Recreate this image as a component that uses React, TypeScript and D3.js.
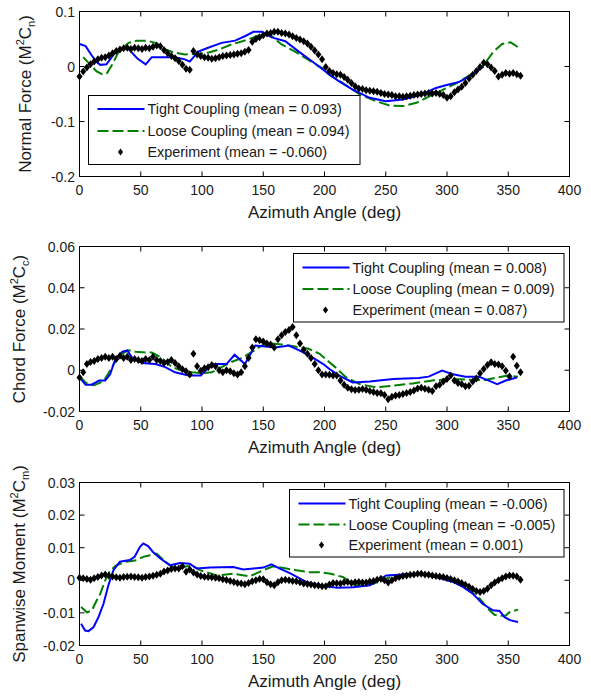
import React from 'react';
import * as d3 from 'd3';

// ---------- DATA ----------
const xTicks = [0, 50, 100, 150, 200, 250, 300, 350, 400];

const yTicksNormal = [0.1, 0, -0.1, -0.2];
const yTickLabelsNormal = ['0.1', '0', '-0.1', '-0.2'];
const yTicksChord = [0.06, 0.04, 0.02, 0, -0.02];
const yTickLabelsChord = ['0.06', '0.04', '0.02', '0', '-0.02'];
const yTicksMoment = [0.03, 0.02, 0.01, 0, -0.01, -0.02];
const yTickLabelsMoment = ['0.03', '0.02', '0.01', '0', '-0.01', '-0.02'];

const legendNormal = ['Tight Coupling (mean = 0.093)', 'Loose Coupling (mean = 0.094)', 'Experiment (mean = -0.060)'];
const legendChord = ['Tight Coupling (mean = 0.008)', 'Loose Coupling (mean = 0.009)', 'Experiment (mean = 0.087)'];
const legendMoment = ['Tight Coupling (mean = -0.006)', 'Loose Coupling (mean = -0.005)', 'Experiment (mean = 0.001)'];

// simulation lines: [azimuth deg, value]
const tightNormal: [number, number][] = [
  [0, 0.041], [5, 0.037], [10, 0.02], [14, 0.008], [17, 0.003], [22, 0.004], [28, 0.022], [33, 0.034], [40, 0.032],
  [47, 0.015], [54, 0.004], [59, 0.017], [67, 0.017], [78, 0.017], [86, 0.013], [90, 0.009], [97, 0.027], [105, 0.034],
  [116, 0.043], [127, 0.047], [135, 0.055], [142, 0.063], [149, 0.063], [157, 0.053], [168, 0.046], [179, 0.027],
  [190, 0.009], [199, -0.006], [204, -0.015], [212, -0.027], [223, -0.042], [237, -0.057], [250, -0.063], [264, -0.06],
  [278, -0.052], [291, -0.039], [299, -0.034], [310, -0.028], [321, -0.015], [326, -0.006], [330, 0.0],
];
const looseNormal: [number, number][] = [
  [3, 0.017], [9, 0.003], [14, -0.009], [18.5, -0.014], [22.5, -0.012], [26.6, 0.003], [32, 0.027], [40, 0.043],
  [47, 0.047], [55, 0.047], [62, 0.043], [70, 0.031], [78, 0.025], [86, 0.022], [94.5, 0.023], [105, 0.025], [114, 0.031],
  [124, 0.04], [133, 0.046], [141, 0.052], [149, 0.059], [157, 0.055], [165, 0.04], [176, 0.027], [187, 0.012],
  [198, -0.003], [204, -0.015], [215, -0.03], [229, -0.051], [242, -0.063], [253, -0.071], [264, -0.072], [275, -0.066],
  [286, -0.054], [297, -0.042], [308, -0.03], [319, -0.015], [330, 0.003], [338, 0.027], [345, 0.041], [352, 0.044],
  [358, 0.035],
];
const tightChord: [number, number][] = [
  [0, -0.0035], [5, -0.007], [10, -0.007], [16, -0.005], [21, -0.005], [25, -0.002], [29, 0.005], [35, 0.009],
  [39, 0.0096], [43, 0.006], [51, 0.0035], [62, 0.003], [70, 0.0015], [78, -0.001], [89, -0.0025], [99, -0.0025],
  [104, 0.0005], [108, 0.003], [120, 0.003], [126.6, 0.0075], [135, 0.003], [143.5, 0.012], [160, 0.011], [171, 0.012],
  [181.5, 0.009], [192, 0.0055], [199, 0.003], [204, 0.0006], [212, -0.0026], [223, -0.0059], [237, -0.0055],
  [256, -0.0043], [277, -0.0038], [285, -0.0031], [296, -0.0002], [304, -0.0018], [315, -0.0031], [326, -0.0031],
  [334, -0.005], [341, -0.0067], [348, -0.005], [357, -0.0035],
];
const looseChord: [number, number][] = [
  [0, -0.0028], [5, -0.006], [11.7, -0.0073], [17, -0.006], [21, -0.004], [26.6, 0.0015], [32, 0.007], [40, 0.0097],
  [45.6, 0.009], [54, 0.0086], [59, 0.0086], [67, 0.006], [75.5, 0.0015], [84, -0.0002], [92, -0.001], [100, -0.0014],
  [108, -0.001], [116, 0.0015], [124, 0.004], [133, 0.006], [141, 0.009], [149, 0.012], [157, 0.013], [165, 0.0125],
  [176, 0.0115], [187, 0.0104], [196, 0.008], [204, 0.0039], [209, 0.0014], [217.5, -0.0034], [228.5, -0.0067],
  [242, -0.0083], [256, -0.0075], [272, -0.0064], [288, -0.005], [304, -0.0042], [320, -0.0047], [331, -0.0047],
  [342, -0.0034], [350, -0.0026], [358, -0.0031],
];
const tightMoment: [number, number][] = [
  [1.3, -0.0133], [4.6, -0.0154], [7.3, -0.0156], [11.4, -0.0144], [15.5, -0.0113], [19.6, -0.0072], [23.6, -0.0015],
  [27.7, 0.0031], [33, 0.0057], [41, 0.0062], [45, 0.0072], [49.4, 0.0103], [52, 0.0113], [56, 0.0105], [60, 0.0087],
  [66, 0.0067], [74, 0.0046], [82, 0.0053], [90, 0.0051], [95.6, 0.0036], [106.5, 0.0039], [125.5, 0.0041],
  [133.6, 0.0033], [150, 0.0039], [156.7, 0.0049], [163.5, 0.0036], [171.7, 0.0022], [185, -0.0005], [196, -0.0015],
  [210, -0.0023], [223.4, -0.0021], [237, -0.0015], [250.4, 0.0015], [264, 0.0018], [277.5, 0.002], [291, 0.001],
  [305, -0.0005], [313, -0.002], [321, -0.0041], [329, -0.0072], [337.5, -0.0092], [342.9, -0.0094], [347, -0.0113],
  [352, -0.0123], [358, -0.0128],
];
const looseMoment: [number, number][] = [
  [1.3, -0.0082], [6, -0.0098], [10, -0.0093], [14, -0.0062], [17, -0.0041], [21, 0.0], [25, 0.003], [30, 0.0046],
  [38, 0.0057], [46.7, 0.0062], [52, 0.0072], [57.6, 0.0077], [63, 0.0082], [70, 0.0057], [76.6, 0.0039], [85, 0.0041],
  [91.7, 0.0046], [98.4, 0.0031], [112, 0.0015], [125.5, 0.002], [139, 0.0012], [150, 0.0031], [158, 0.0043],
  [169, 0.0036], [177, 0.0031], [187, 0.0025], [196, 0.0025], [205, 0.002], [215, 0.001], [225, -0.0015],
  [235, -0.0015], [245, -0.0005], [252, 0.0008], [264, 0.0018], [277.5, 0.002], [291, 0.0012], [305, -0.0003],
  [318, -0.003], [326.6, -0.0056], [334.7, -0.0092], [338.8, -0.0106], [344, -0.0109], [348, -0.0108], [351, -0.0098],
  [358, -0.009],
];

// experiment samples
const expAngles = [
  0, 3, 6, 9, 12, 15, 18, 21, 24, 27, 30, 33, 36, 39, 42, 45, 48, 51, 54, 57, 60, 63, 66, 69, 72, 75, 78, 81, 84, 87,
  90, 93, 96, 99, 102, 105, 108, 111, 114, 117, 120, 123, 126, 129, 132, 135, 138, 141, 144, 147, 150, 153, 156, 159,
  162, 165, 168, 171, 174, 177, 180, 183, 186, 189, 192, 195, 198, 201, 204, 207, 210, 213, 216, 219, 222, 225, 228,
  231, 234, 237, 240, 243, 246, 249, 252, 255, 258, 261, 264, 267, 270, 273, 276, 279, 282, 285, 288, 291, 294, 297,
  300, 303, 306, 309, 312, 315, 318, 321, 324, 327, 330, 333, 336, 339, 342, 345, 348, 351, 354, 357, 360,
];
const expNormal = [
  -0.018, -0.009, -0.002, 0.004, 0.009, 0.013, 0.016, 0.017, 0.02, 0.024,
  0.028, 0.031, 0.033, 0.034, 0.032, 0.034, 0.033, 0.032, 0.034, 0.033,
  0.036, 0.038, 0.037, 0.03, 0.024, 0.019, 0.015, 0.01, 0.003, -0.004,
  -0.006, 0.028, 0.022, 0.019, 0.017, 0.016, 0.014, 0.015, 0.017, 0.019,
  0.02, 0.021, 0.022, 0.023, 0.024, 0.027, 0.03, 0.045, 0.05, 0.053,
  0.057, 0.06, 0.061, 0.063, 0.063, 0.061, 0.06, 0.058, 0.055, 0.052,
  0.049, 0.046, 0.042, 0.036, 0.029, 0.022, 0.013, -0.001, -0.008, -0.012,
  -0.014, -0.015, -0.019, -0.024, -0.03, -0.036, -0.04, -0.041, -0.043, -0.044,
  -0.045, -0.046, -0.048, -0.05, -0.051, -0.052, -0.054, -0.054, -0.055, -0.054,
  -0.053, -0.052, -0.051, -0.05, -0.049, -0.048, -0.049, -0.048, -0.05, -0.052,
  -0.057, -0.054, -0.047, -0.042, -0.037, -0.03, -0.022, -0.015, -0.008, -0.001,
  0.007, 0.004, -0.002, -0.008, -0.018, -0.015, -0.012, -0.013, -0.012, -0.014,
  -0.017,
];
const expChord = [
  -0.0035, -0.001, 0.003, 0.004, 0.0045, 0.0055, 0.006, 0.0065, 0.006, 0.0065,
  0.0055, 0.007, 0.006, 0.0065, 0.005, 0.0055, 0.005, 0.0045, 0.0055, 0.005,
  0.0065, 0.005, 0.0045, 0.0035, 0.004, 0.005, 0.0035, 0.002, 0.0005, -0.0005,
  -0.002, 0.008, 0.002, -0.0002, 0.001, 0.0015, 0.0025, 0.002, 0.0, -0.001,
  0.0, -0.0005, -0.0015, -0.002, -0.001, 0.002, 0.006, 0.011, 0.015, 0.0145,
  0.014, 0.013, 0.0125, 0.011, 0.015, 0.017, 0.0185, 0.0195, 0.021, 0.017,
  0.013, 0.01, 0.008, 0.006, 0.003, 0.0, -0.002, -0.002, -0.0022, -0.0026,
  -0.0026, -0.005, -0.007, -0.0085, -0.0092, -0.0096, -0.0094, -0.0091, -0.0095, -0.01,
  -0.0105, -0.011, -0.0112, -0.012, -0.014, -0.0128, -0.0122, -0.012, -0.0115, -0.011,
  -0.0105, -0.0098, -0.0088, -0.0085, -0.009, -0.0095, -0.01, -0.0078, -0.007, -0.0055,
  -0.0042, -0.0026, -0.005, -0.0062, -0.0067, -0.0078, -0.0075, -0.0054, -0.004, -0.0015,
  0.0006, 0.0025, 0.0039, 0.003, 0.0028, 0.002, -0.0002, -0.003, 0.0065, 0.0022,
  -0.001,
];
const expMoment = [
  0.0008, 0.0006, 0.0004, 0.0002, 0.0006, 0.001, 0.0015, 0.0018, 0.0014, 0.0012,
  0.0009, 0.0008, 0.001, 0.0011, 0.0012, 0.001, 0.0009, 0.0008, 0.001, 0.0012,
  0.0014, 0.0017, 0.002, 0.0027, 0.003, 0.0035, 0.0036, 0.0036, 0.0043, 0.0026,
  0.0033, 0.0024, 0.0018, 0.0013, 0.0011, 0.001, 0.0009, 0.0008, 0.0006, 0.0003,
  0.0001, -0.0002, -0.0005, -0.0008, -0.001, -0.0012, -0.0008, -0.0003, 0.0, 0.0004,
  0.0003, -0.0006, -0.0012, -0.0015, -0.0006, 0.0, 0.0002, 0.0, -0.0002, -0.0003,
  -0.0006, -0.001, -0.0011, -0.0013, -0.0015, -0.0016, -0.0018, -0.0018, -0.0013, -0.0008,
  -0.0009, -0.001, -0.0006, -0.0005, -0.0008, -0.0006, -0.0005, -0.0007, -0.0007, -0.0004,
  -0.0002, 0.0002, 0.0005, 0.0, -0.0007, 0.0, 0.0006, 0.001, 0.0013, 0.0015,
  0.0017, 0.0018, 0.002, 0.002, 0.0018, 0.0017, 0.0015, 0.0013, 0.0012, 0.001,
  0.0007, 0.0004, 0.0, -0.0004, -0.0008, -0.0014, -0.002, -0.0027, -0.0033, -0.0036,
  -0.0033, -0.0026, -0.0015, -0.0007, 0.0, 0.0006, 0.0012, 0.0015, 0.0014, 0.0012,
  0.0002,
];

// ---------- LAYOUT ----------
const W = 591;
const H = 696;
const X0 = 79.5;
const X1 = 569.5;
const FONT = '"Liberation Sans", Arial, Helvetica, sans-serif';
const BLUE = '#0000ff';
const GREEN = '#008000';
const TEXT = '#1a1a1a';

type PanelProps = {
  top: number;
  bottom: number;
  yDomain: [number, number];
  yTicks: number[];
  yTickLabels: string[];
  tight: [number, number][];
  loose: [number, number][];
  exp: number[];
  legend: string[];
  legendBox: { x: number; y: number; w: number; h: number; rows: number[] };
  labelMain: string;
  labelSub: string;
  labelX: number;
};

const diamond = 'M0,-4L3,0L0,4L-3,0Z';

function Panel(p: PanelProps) {
  const x = d3.scaleLinear().domain([0, 400]).range([X0, X1]);
  const y = d3.scaleLinear().domain(p.yDomain).range([p.bottom, p.top]);
  const line = d3
    .line<[number, number]>()
    .x((d) => x(d[0]))
    .y((d) => y(d[1]));
  const tl = 5;
  const lb = p.legendBox;
  return (
    <g>
      {/* data */}
      <path d={line(p.loose) || ''} fill="none" stroke={GREEN} strokeWidth={2} strokeDasharray="11,4" />
      <path d={line(p.tight) || ''} fill="none" stroke={BLUE} strokeWidth={2} />
      {p.exp.map((v, i) => (
        <path key={i} d={diamond} transform={`translate(${x(expAngles[i])},${y(v)})`} fill="#000" />
      ))}
      {/* frame */}
      <rect x={X0} y={p.top} width={X1 - X0} height={p.bottom - p.top} fill="none" stroke="#000" strokeWidth={1} />
      {xTicks.map((t) => (
        <g key={'x' + t}>
          <line x1={x(t)} x2={x(t)} y1={p.bottom} y2={p.bottom - tl} stroke="#000" />
          <line x1={x(t)} x2={x(t)} y1={p.top} y2={p.top + tl} stroke="#000" />
          <text x={x(t)} y={p.bottom + 18.5} textAnchor="middle" fontSize={14} fontFamily={FONT} fill={TEXT}>
            {t}
          </text>
        </g>
      ))}
      {p.yTicks.map((t, i) => (
        <g key={'y' + t}>
          <line x1={X0} x2={X0 + tl} y1={y(t)} y2={y(t)} stroke="#000" />
          <line x1={X1} x2={X1 - tl} y1={y(t)} y2={y(t)} stroke="#000" />
          <text x={X0 - 4.5} y={y(t) + 5} textAnchor="end" fontSize={14} fontFamily={FONT} fill={TEXT}>
            {p.yTickLabels[i]}
          </text>
        </g>
      ))}
      <text x={(X0 + X1) / 2} y={p.bottom + 41} textAnchor="middle" fontSize={17} fontFamily={FONT} fill={TEXT}>
        Azimuth Angle (deg)
      </text>
      <text
        transform={`translate(${p.labelX},${(p.top + p.bottom) / 2}) rotate(-90)`}
        textAnchor="middle"
        fontSize={17}
        fontFamily={FONT}
        fill={TEXT}
      >
        {p.labelMain + ' (M'}
        <tspan dy={-7} fontSize={11}>2</tspan>
        <tspan dy={7}>C</tspan>
        <tspan dy={4} fontSize={11}>{p.labelSub}</tspan>
        <tspan dy={-4}>)</tspan>
      </text>
      {/* legend */}
      <rect x={lb.x} y={lb.y} width={lb.w} height={lb.h} fill="#fff" stroke="#000" strokeWidth={1} />
      <line x1={lb.x + 9} x2={lb.x + 56} y1={lb.rows[0]} y2={lb.rows[0]} stroke={BLUE} strokeWidth={2} />
      <line x1={lb.x + 9} x2={lb.x + 56} y1={lb.rows[1]} y2={lb.rows[1]} stroke={GREEN} strokeWidth={2} strokeDasharray="11,4" />
      <path d="M0,-3.6L2.6,0L0,3.6L-2.6,0Z" transform={`translate(${lb.x + 32},${lb.rows[2]})`} fill="#000" />
      {p.legend.map((s, i) => (
        <text key={s} x={lb.x + 59} y={lb.rows[i] + 5} fontSize={14.4} fontFamily={FONT} fill={TEXT}>
          {s}
        </text>
      ))}
    </g>
  );
}

export default function App() {
  return (
    <svg
      width={W}
      height={H}
      viewBox={`0 0 ${W} ${H}`}
      style={{ position: 'absolute', left: 0, top: 0, background: '#fff' }}
    >
      <rect x={0} y={0} width={W} height={H} fill="#fff" />
      <Panel
        top={11.5}
        bottom={176.5}
        yDomain={[-0.2, 0.1]}
        yTicks={yTicksNormal}
        yTickLabels={yTickLabelsNormal}
        tight={tightNormal}
        loose={looseNormal}
        exp={expNormal}
        legend={legendNormal}
        legendBox={{ x: 88.5, y: 95.5, w: 271.5, h: 69, rows: [109, 131, 152] }}
        labelMain="Normal Force"
        labelSub="n"
        labelX={31}
      />
      <Panel
        top={246.5}
        bottom={411.5}
        yDomain={[-0.02, 0.06]}
        yTicks={yTicksChord}
        yTickLabels={yTickLabelsChord}
        tight={tightChord}
        loose={looseChord}
        exp={expChord}
        legend={legendChord}
        legendBox={{ x: 293.5, y: 253.5, w: 270.5, h: 68.5, rows: [267.5, 289, 310] }}
        labelMain="Chord Force"
        labelSub="c"
        labelX={25}
      />
      <Panel
        top={482.5}
        bottom={645.5}
        yDomain={[-0.02, 0.03]}
        yTicks={yTicksMoment}
        yTickLabels={yTickLabelsMoment}
        tight={tightMoment}
        loose={looseMoment}
        exp={expMoment}
        legend={legendMoment}
        legendBox={{ x: 289.5, y: 489.5, w: 274.5, h: 67.5, rows: [503.5, 524.5, 545] }}
        labelMain="Spanwise Moment"
        labelSub="m"
        labelX={25}
      />
    </svg>
  );
}
